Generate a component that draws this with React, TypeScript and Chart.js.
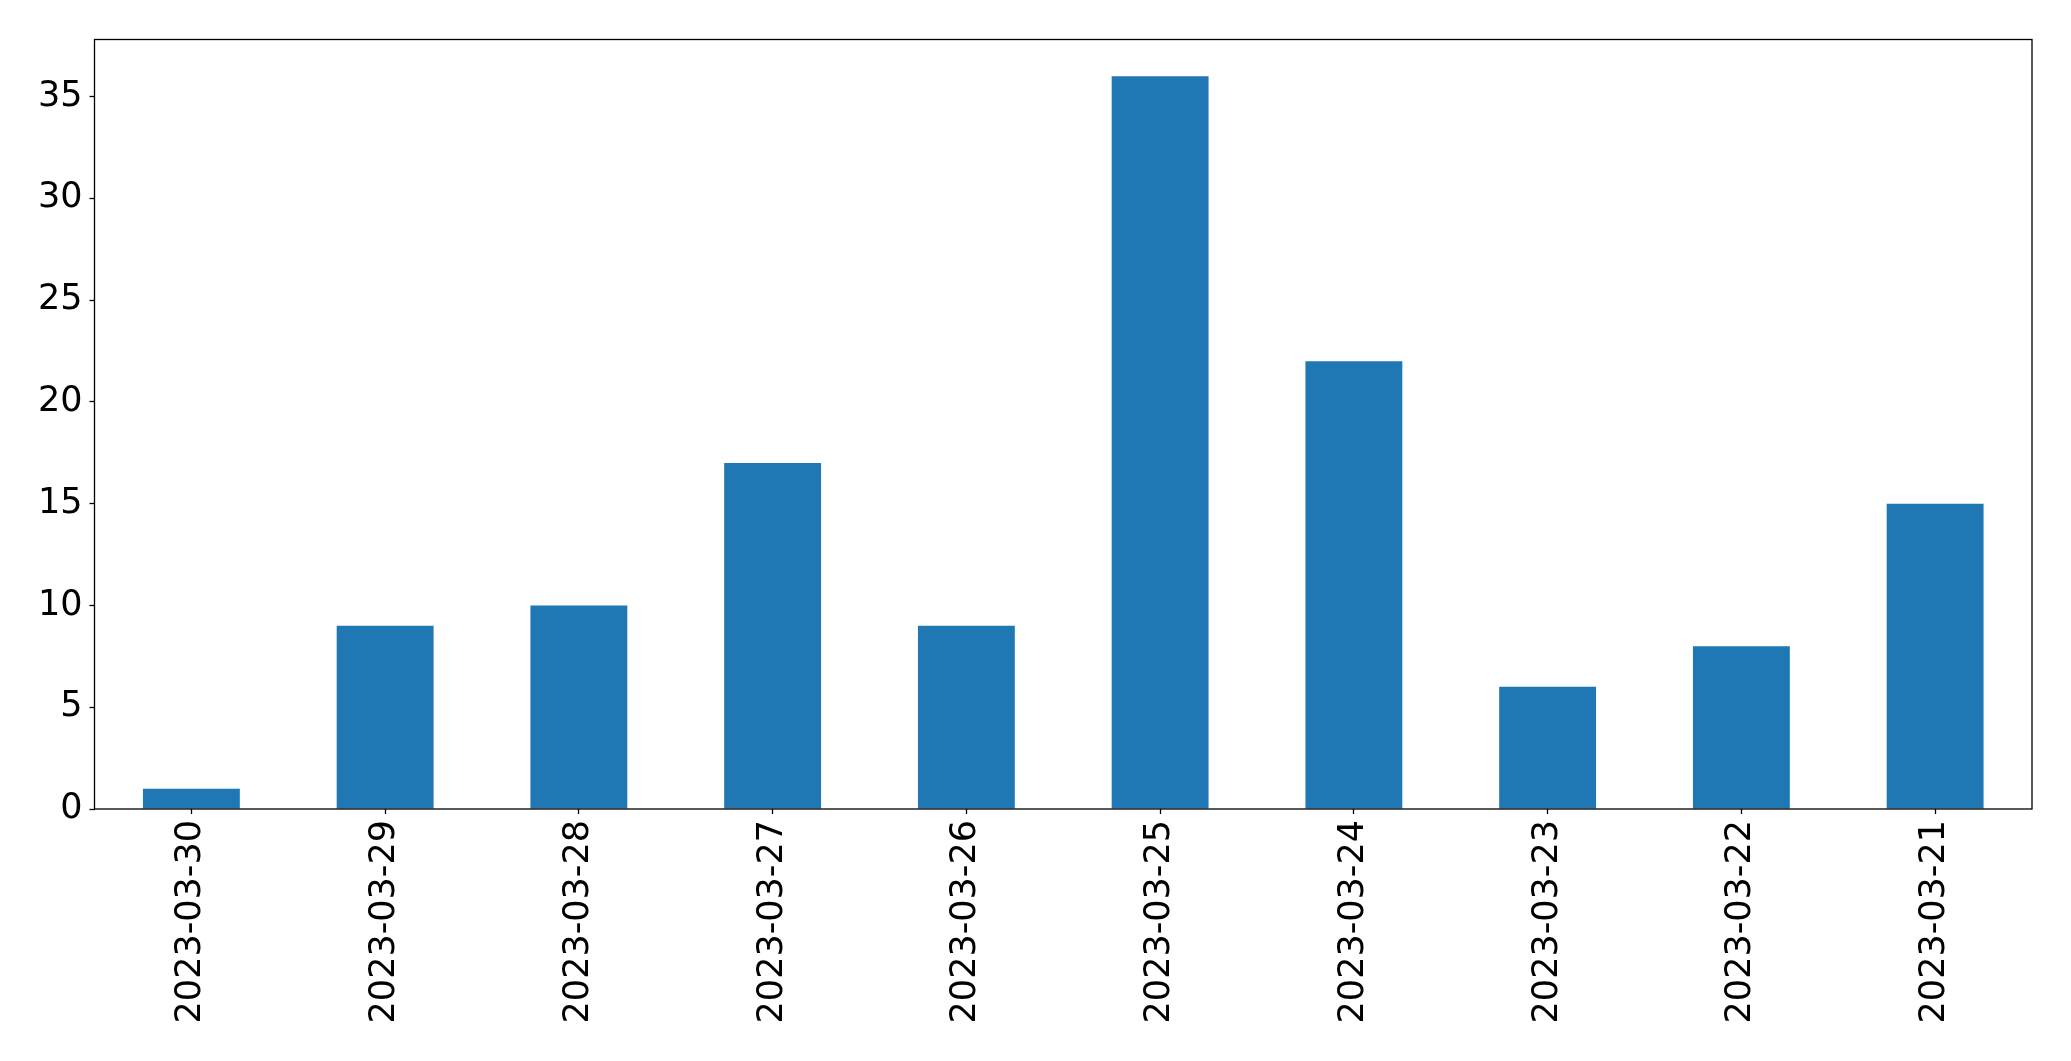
import React, { useEffect, useRef } from "react";
import { Chart, registerables } from "chart.js";

Chart.register(...registerables);

const categories = [
  "2023-03-30",
  "2023-03-29",
  "2023-03-28",
  "2023-03-27",
  "2023-03-26",
  "2023-03-25",
  "2023-03-24",
  "2023-03-23",
  "2023-03-22",
  "2023-03-21",
];
const values = [1, 9, 10, 17, 9, 36, 22, 6, 8, 15];
const yTicks = [0, 5, 10, 15, 20, 25, 30, 35];
const yMax = 37.8;

const FONT = "'DejaVu Sans', sans-serif";

const frame = {
  id: "frame",
  afterDraw(chart: any) {
    const { ctx, chartArea } = chart;
    ctx.save();
    ctx.strokeStyle = "#000";
    ctx.lineWidth = 1.3;
    ctx.strokeRect(chartArea.left, chartArea.top, chartArea.right - chartArea.left, chartArea.bottom - chartArea.top);
    ctx.restore();
  },
};

export default function App() {
  const ref = useRef<HTMLCanvasElement | null>(null);
  useEffect(() => {
    if (!ref.current) return;
    const chart = new Chart(ref.current, {
      type: "bar",
      data: {
        labels: categories,
        datasets: [
          {
            data: values,
            backgroundColor: "#1f77b4",
            barPercentage: 0.5,
            categoryPercentage: 1.0,
          },
        ],
      },
      options: {
        responsive: false,
        animation: false,
        layout: { padding: { top: 39.5, right: 39, left: 0, bottom: 0 } },
        plugins: { legend: { display: false }, tooltip: { enabled: false } },
        scales: {
          x: {
            afterFit: (s: any) => {
              s.height = 252;
            },
            grid: { display: true, drawOnChartArea: false, offset: false, tickLength: 5, color: "#000", tickWidth: 1.3 },
            border: { display: false },
            ticks: {
              autoSkip: false,
              minRotation: 90,
              maxRotation: 90,
              padding: 6,
              color: "#000",
              font: { family: FONT, size: 35 },
            },
          },
          y: {
            min: 0,
            max: yMax,
            afterFit: (s: any) => {
              s.width = 94.5;
            },
            afterBuildTicks: (s: any) => {
              s.ticks = yTicks.map((v) => ({ value: v }));
            },
            grid: { display: true, drawOnChartArea: false, tickLength: 5, color: "#000", tickWidth: 1.3 },
            border: { display: false },
            ticks: {
              padding: 7,
              color: "#000",
              font: { family: FONT, size: 35 },
            },
          },
        },
      },
      plugins: [frame],
    });
    return () => chart.destroy();
  }, []);
  return (
    <div style={{ position: "absolute", left: 0, top: 0, width: 2071, height: 1061, background: "#fff" }}>
      <canvas ref={ref} width={2071} height={1061} style={{ display: "block" }} />
    </div>
  );
}
